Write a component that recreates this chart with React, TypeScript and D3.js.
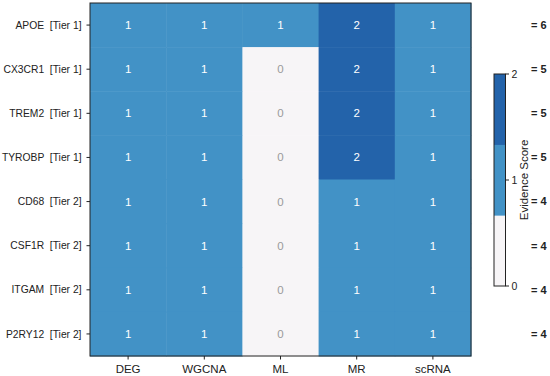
import React, { useEffect, useRef } from 'react';
import * as d3 from 'd3';

const genes = ['APOE', 'CX3CR1', 'TREM2', 'TYROBP', 'CD68', 'CSF1R', 'ITGAM', 'P2RY12'];
const tiers = [1, 1, 1, 1, 2, 2, 2, 2];
const methods = ['DEG', 'WGCNA', 'ML', 'MR', 'scRNA'];
const degScores = [1, 1, 1, 1, 1, 1, 1, 1];
const wgcnaScores = [1, 1, 1, 1, 1, 1, 1, 1];
const mlScores = [1, 0, 0, 0, 0, 0, 0, 0];
const mrScores = [2, 2, 2, 2, 1, 1, 1, 1];
const scrnaScores = [1, 1, 1, 1, 1, 1, 1, 1];
const colorbarTicks = [0, 1, 2];

const W = 550;
const H = 376;

const App: React.FC = () => {
  const svgRef = useRef<SVGSVGElement | null>(null);

  useEffect(() => {
    if (!svgRef.current) return;
    const svg = d3.select(svgRef.current);
    svg.selectAll('*').remove();

    const font = '"Liberation Sans", Arial, sans-serif';
    const left = 90, right = 471, top = 3, bottom = 356;

    const columns = [degScores, wgcnaScores, mlScores, mrScores, scrnaScores];
    const cells = genes.flatMap((g, i) =>
      methods.map((m, j) => ({ gene: g, method: m, value: columns[j][i] }))
    );

    const x = d3.scaleBand<string>().domain(methods).range([left, right]);
    const y = d3.scaleBand<string>().domain(genes).range([top, bottom]);

    // 3-colour listed map over 0..2
    const palette = ['#f7f5f7', '#4292c6', '#2363aa'];
    const colorOf = (v: number) => palette[Math.min(2, Math.floor((v / 2) * 3))];

    svg.append('g')
      .selectAll('rect')
      .data(cells)
      .enter().append('rect')
      .attr('x', d => x(d.method)!)
      .attr('y', d => y(d.gene)!)
      .attr('width', x.bandwidth() + 0.5)
      .attr('height', y.bandwidth() + 0.5)
      .attr('fill', d => colorOf(d.value));

    svg.append('g')
      .selectAll('text')
      .data(cells)
      .enter().append('text')
      .attr('x', d => x(d.method)! + x.bandwidth() / 2)
      .attr('y', d => y(d.gene)! + y.bandwidth() / 2)
      .attr('dy', '0.35em')
      .attr('text-anchor', 'middle')
      .style('font-family', font)
      .style('font-size', '11.5px')
      .attr('fill', d => (d.value === 0 ? '#9a9a9a' : '#ffffff'))
      .text(d => d.value);

    // frame
    svg.append('rect')
      .attr('x', left).attr('y', top)
      .attr('width', right - left).attr('height', bottom - top)
      .attr('fill', 'none').attr('stroke', '#222').attr('stroke-width', 1);

    // y axis labels + totals
    const yAxis = svg.append('g');
    genes.forEach((g, i) => {
      const cy = y(g)! + y.bandwidth() / 2;
      yAxis.append('line')
        .attr('x1', left - 3.5).attr('x2', left).attr('y1', cy).attr('y2', cy)
        .attr('stroke', '#222');
      yAxis.append('text')
        .attr('x', left - 8.5).attr('y', cy).attr('dy', '0.35em')
        .attr('text-anchor', 'end')
        .style('font-family', font).style('font-size', '10.3px')
        .attr('fill', '#222')
        .attr('xml:space', 'preserve')
        .style('white-space', 'pre')
        .text(`${g}  [Tier ${tiers[i]}]`);

      const total = d3.sum(columns, c => c[i]);
      svg.append('text')
        .attr('x', 531).attr('y', cy).attr('dy', '0.35em')
        .style('font-family', font).style('font-size', '11px').style('font-weight', 'bold')
        .attr('fill', '#222')
        .text(`= ${total}`);
    });

    // x axis labels
    const xAxis = svg.append('g');
    methods.forEach(m => {
      const cx = x(m)! + x.bandwidth() / 2;
      xAxis.append('line')
        .attr('x1', cx).attr('x2', cx).attr('y1', bottom).attr('y2', bottom + 3.5)
        .attr('stroke', '#222');
      xAxis.append('text')
        .attr('x', cx).attr('y', bottom + 13).attr('dy', '0.35em')
        .attr('text-anchor', 'middle')
        .style('font-family', font).style('font-size', '11.5px')
        .attr('fill', '#222')
        .text(m);
    });

    // colorbar
    const cbLeft = 494, cbW = 11.5, cbTop = 74, cbBottom = 286;
    const cy = d3.scaleLinear().domain([0, 2]).range([cbBottom, cbTop]);
    const segs = [0, 1, 2].map(k => ({ k, lo: (k * 2) / 3, hi: ((k + 1) * 2) / 3 }));
    svg.append('g')
      .selectAll('rect')
      .data(segs)
      .enter().append('rect')
      .attr('x', cbLeft)
      .attr('y', d => cy(d.hi))
      .attr('width', cbW)
      .attr('height', d => cy(d.lo) - cy(d.hi) + 0.3)
      .attr('fill', d => palette[d.k]);
    svg.append('rect')
      .attr('x', cbLeft).attr('y', cbTop).attr('width', cbW).attr('height', cbBottom - cbTop)
      .attr('fill', 'none').attr('stroke', '#222').attr('stroke-width', 1);
    colorbarTicks.forEach(t => {
      svg.append('line')
        .attr('x1', cbLeft + cbW).attr('x2', cbLeft + cbW + 3.5)
        .attr('y1', cy(t)).attr('y2', cy(t)).attr('stroke', '#222');
      svg.append('text')
        .attr('x', cbLeft + cbW + 6).attr('y', cy(t)).attr('dy', '0.35em')
        .style('font-family', font).style('font-size', '10.5px')
        .attr('fill', '#222')
        .text(t);
    });
    svg.append('text')
      .attr('transform', `translate(528,${cy(1)}) rotate(-90)`)
      .attr('text-anchor', 'middle')
      .style('font-family', font).style('font-size', '11.5px')
      .attr('fill', '#222')
      .text('Evidence Score');
  }, []);

  return (
    <svg
      ref={svgRef}
      width={W}
      height={H}
      style={{ position: 'absolute', left: 0, top: 0, background: '#fff' }}
    />
  );
};

export default App;
